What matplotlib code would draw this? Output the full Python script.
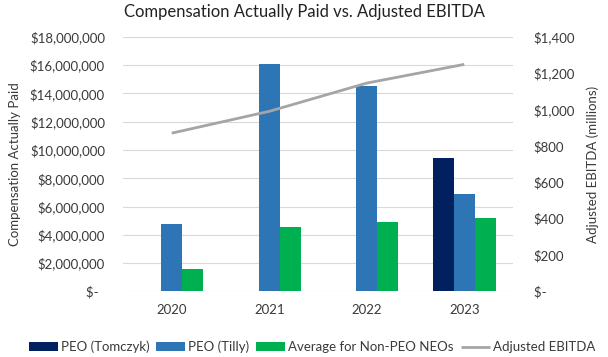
import numpy as np
import matplotlib.pyplot as plt
from matplotlib.ticker import FuncFormatter

# ---------------------------------------------------------------------------
# Data
# ---------------------------------------------------------------------------
years = ["2020", "2021", "2022", "2023"]
peo_tomczyk = [np.nan, np.nan, np.nan, 9_410_000]
peo_tilly = [4_750_000, 16_080_000, 14_540_000, 6_870_000]
non_peo_avg = [1_570_000, 4_580_000, 4_890_000, 5_170_000]
adj_ebitda = [870, 990, 1145, 1248]  # $ millions

left_ticks = np.arange(0, 18_000_001, 2_000_000)
right_ticks = np.arange(0, 1401, 200)

TEXT = "#3a3a3a"
plt.rcParams["font.family"] = ["Lato", "DejaVu Sans"]
plt.rcParams["font.size"] = 9


def dollars(v, _pos=None):
    if v == 0:
        return "$-  "
    return f"${v:,.0f}"


fig = plt.figure(figsize=(6.08, 3.57), dpi=100)
ax = fig.add_axes([0.2023, 0.1835, 0.6415, 0.7137])
ax2 = ax.twinx()

x = np.arange(len(years))
w = 0.215
ax.bar(x - w, peo_tomczyk, w, color="#002060", label="PEO (Tomczyk)", zorder=3)
ax.bar(x, peo_tilly, w, color="#2E75B6", label="PEO (Tilly)", zorder=3)
ax.bar(x + w, non_peo_avg, w, color="#00B050", label="Average for Non-PEO NEOs", zorder=3)
ax2.plot(x, adj_ebitda, color="#A5A5A5", linewidth=2.0, label="Adjusted EBITDA",
         solid_capstyle="butt")

ax.set_xlim(-0.5, 3.5)
ax.set_ylim(0, 18_000_000)
ax.set_yticks(left_ticks)
ax.yaxis.set_major_formatter(FuncFormatter(dollars))
ax2.set_ylim(0, 1400)
ax2.set_yticks(right_ticks)
ax2.yaxis.set_major_formatter(FuncFormatter(dollars))

ax.set_xticks(x)
ax.set_xticklabels(years)
ax.grid(axis="y", color="#D9D9D9", linewidth=0.8, zorder=0)
ax.set_axisbelow(True)

for a in (ax, ax2):
    for s in a.spines.values():
        s.set_visible(False)
    a.tick_params(length=0, colors=TEXT, labelsize=9.5)
ax.tick_params(axis="y", pad=13)
ax2.tick_params(axis="y", pad=15)
ax.tick_params(axis="x", pad=9)

ax.set_ylabel("Compensation Actually Paid", color=TEXT, fontsize=9.5, labelpad=6)
ax2.set_ylabel("Adjusted EBITDA (millions)", color=TEXT, fontsize=9.5, labelpad=8)

fig.text(0.5, 1 - 12 / 357, "Compensation Actually Paid vs. Adjusted EBITDA",
         ha="center", va="center", fontsize=12, color="#222222")

h1, l1 = ax.get_legend_handles_labels()
h2, l2 = ax2.get_legend_handles_labels()
fig.legend(h1 + h2, l1 + l2, loc="center", bbox_to_anchor=(0.513, 0.028), ncol=4,
           frameon=False, fontsize=9.5, handlelength=2.2, handletextpad=0.25,
           columnspacing=0.5, labelcolor=TEXT)

fig.savefig("out.png", dpi=100)
